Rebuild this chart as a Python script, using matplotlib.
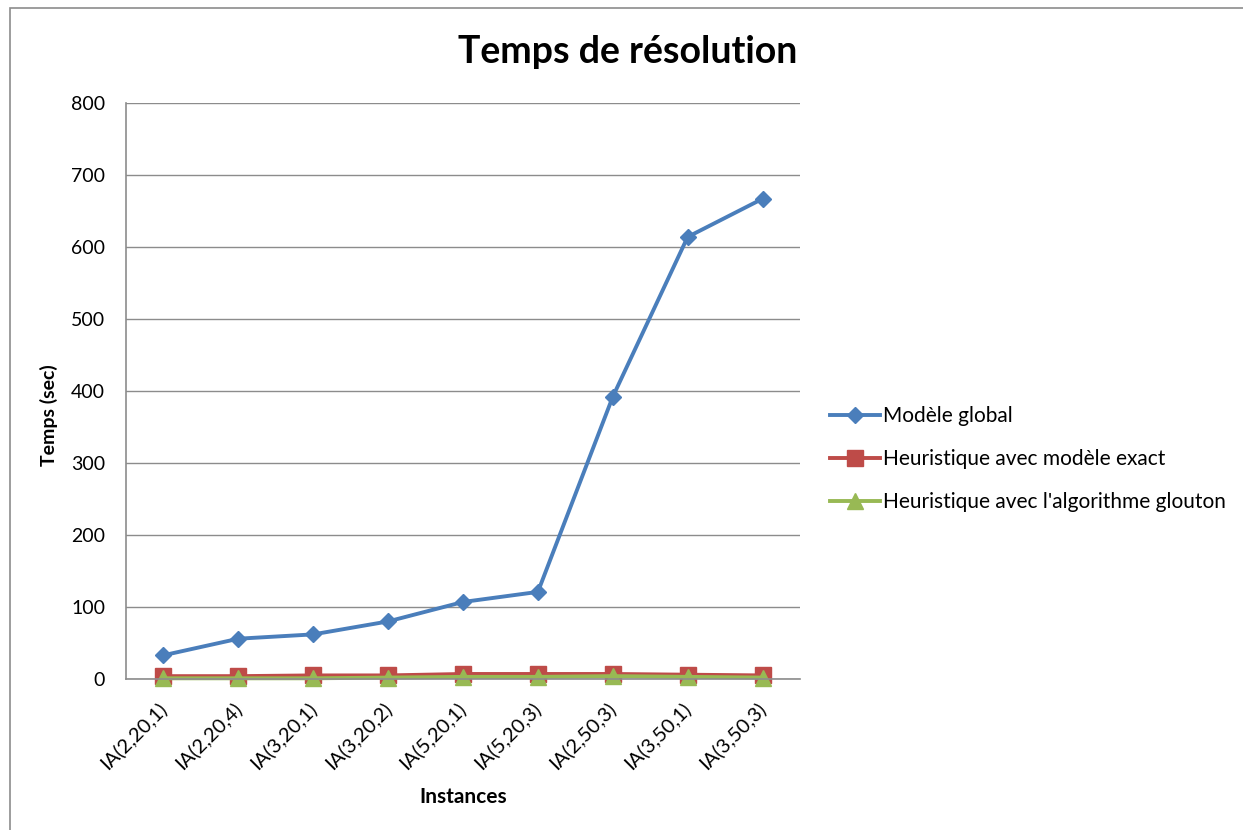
import matplotlib
matplotlib.use('Agg')
import matplotlib.pyplot as plt
from matplotlib.patches import Rectangle

plt.rcParams['font.family'] = ['Lato', 'DejaVu Sans']

# Données
instances = ['IA(2,20,1)', 'IA(2,20,4)', 'IA(3,20,1)', 'IA(3,20,2)', 'IA(5,20,1)',
             'IA(5,20,3)', 'IA(2,50,3)', 'IA(3,50,1)', 'IA(3,50,3)']
modele_global = [33, 56, 62, 80, 107, 121, 392, 614, 667]
heur_exact = [4, 4, 5, 5, 7, 7, 7, 6, 5]
heur_glouton = [1, 1, 1, 2, 3, 3, 4, 3, 2]

x = [i + 0.5 for i in range(len(instances))]

fig = plt.figure(figsize=(12.43, 8.3), dpi=100)
ax = fig.add_axes([0.1014, 0.1819, 0.5422, 0.694])

# Cadre du graphique
fig.patches.append(Rectangle((0.008, -0.01), 1.1, 1.0, transform=fig.transFigure,
                             fill=False, edgecolor='#8c8c8c', linewidth=1.2))

ax.plot(x, modele_global, color='#4A7EBB', linewidth=2.8, marker='D', markersize=8.5,
        label='Modèle global', clip_on=False)
ax.plot(x, heur_exact, color='#BE4B48', linewidth=2.8, marker='s', markersize=11,
        label='Heuristique avec modèle exact', clip_on=False)
ax.plot(x, heur_glouton, color='#98B954', linewidth=2.8, marker='^', markersize=12,
        label="Heuristique avec l'algorithme glouton", clip_on=False)

ax.set_xlim(0, len(instances))
ax.set_ylim(0, 800)
ax.set_yticks(range(0, 801, 100))
ax.set_xticks(x)
ax.set_xticklabels(instances, rotation=45, ha='right', va='center',
                   rotation_mode='anchor', fontsize=14.5)
ax.tick_params(axis='y', labelsize=14, length=0, pad=15)
ax.tick_params(axis='x', length=0, pad=19)
ax.grid(axis='y', color='#8c8c8c', linewidth=1)
ax.set_axisbelow(True)
for s in ['top', 'right']:
    ax.spines[s].set_visible(False)
for s in ['left', 'bottom']:
    ax.spines[s].set_color('#8c8c8c')
    ax.spines[s].set_linewidth(1.2)

fig.text(0.039, 0.4997, 'Temps (sec)', rotation=90, ha='center', va='center',
         fontsize=14, fontweight='bold')
fig.text(0.3725, 1 - 797 / 830, 'Instances', ha='center', va='center',
         fontsize=15, fontweight='bold')
fig.text(0.505, 1 - 52 / 830, 'Temps de résolution', ha='center', va='center',
         fontsize=27, fontweight='bold')

ax.legend(loc='center left', bbox_to_anchor=(0.6677, 0.447), bbox_transform=fig.transFigure,
          frameon=False, fontsize=15, handlelength=2.4, handletextpad=0.15,
          labelspacing=1.1, borderpad=0, borderaxespad=0)

fig.savefig('out.png', dpi=100)
